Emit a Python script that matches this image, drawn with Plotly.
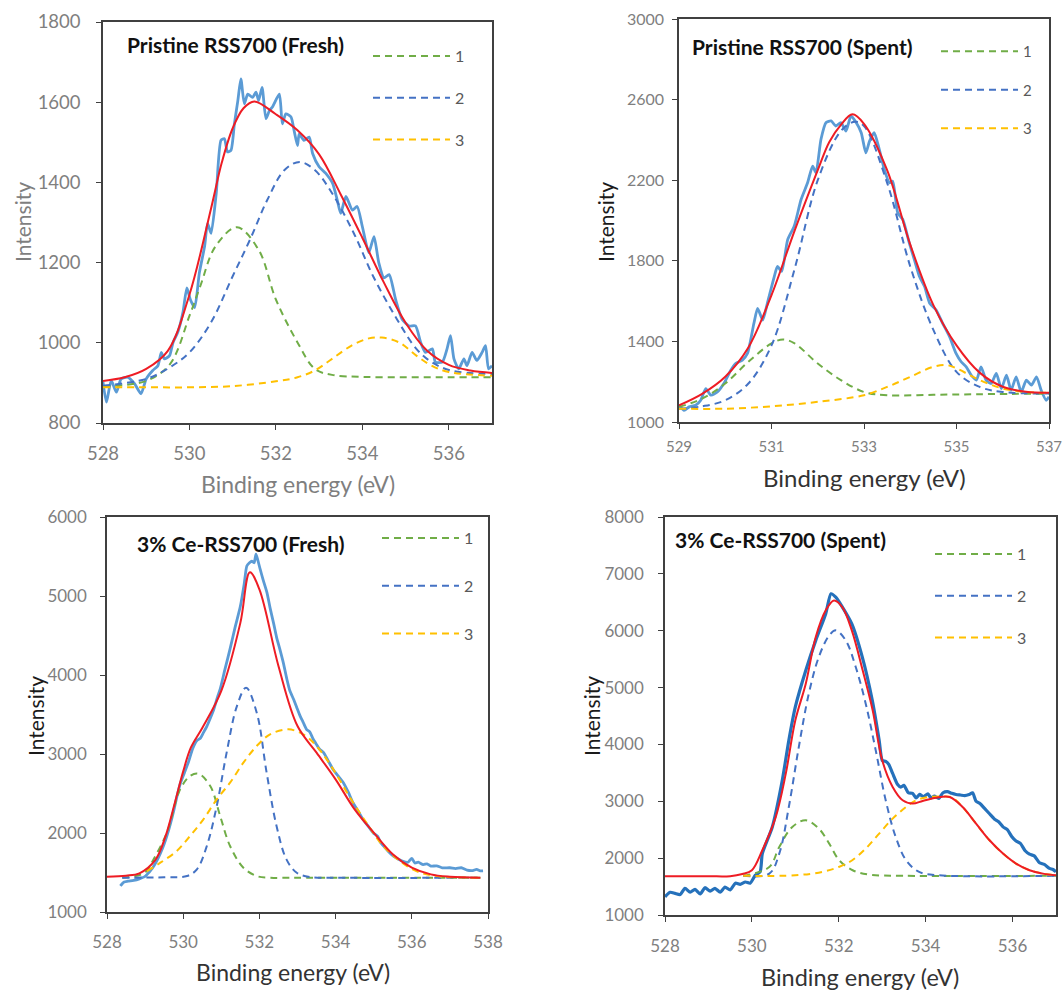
import plotly.graph_objects as go

W, H = 1064, 990
FONT = "Lato"

# ---------------- Panel 1: Pristine RSS700 (Fresh) ----------------
p1_title = "Pristine RSS700 (Fresh)"
p1_meas_x = [528.00, 528.08, 528.19, 528.31, 528.42, 528.58, 528.73, 528.88, 529.00, 529.15, 529.27, 529.35,
             529.42, 529.54, 529.62, 529.73, 529.85, 529.94, 530.02, 530.12, 530.23, 530.35, 530.42, 530.50,
             530.62, 530.73, 530.81, 530.88, 530.96, 531.04, 531.12, 531.19, 531.27, 531.35, 531.46, 531.54,
             531.60, 531.68, 531.77, 531.85, 531.92, 532.08, 532.15, 532.23, 532.35, 532.42, 532.50, 532.54,
             532.65, 532.77, 532.85, 533.00, 533.15, 533.31, 533.42, 533.50, 533.62, 533.77, 533.88, 534.00,
             534.15, 534.27, 534.38, 534.50, 534.62, 534.77, 534.92, 535.08, 535.23, 535.35, 535.46, 535.62,
             535.69, 535.85, 535.96, 536.04, 536.12, 536.23, 536.35, 536.42, 536.54, 536.65, 536.77, 536.85,
             536.92, 537.00]
p1_meas_y = [902, 852, 906, 877, 910, 914, 898, 873, 910, 931, 943, 976,
             960, 968, 1001, 1026, 1076, 1137, 1108, 1088, 1175, 1240, 1298, 1273,
             1373, 1505, 1509, 1476, 1480, 1546, 1604, 1658, 1596, 1620, 1612, 1625,
             1604, 1637, 1559, 1579, 1588, 1620, 1546, 1571, 1563, 1530, 1492, 1521,
             1505, 1513, 1472, 1439, 1423, 1398, 1356, 1323, 1365, 1331, 1340, 1290,
             1225, 1265, 1200, 1162, 1170, 1108, 1059, 1042, 1042, 1001, 976, 985,
             952, 952, 985, 1018, 960, 935, 960, 943, 976, 956, 976, 993,
             935, 943]
p1_fit_x = [528.0, 528.5, 529.0, 529.5, 530.0, 530.5, 530.75, 531.0, 531.25, 531.5, 532.0, 532.5, 533.0, 533.5,
            534.0, 534.5, 535.0, 535.5, 536.0, 536.5, 537.0]
p1_fit_y = [905, 914, 935, 980, 1120, 1335, 1450, 1535, 1585, 1602, 1570, 1530, 1470, 1370,
            1262, 1150, 1050, 980, 945, 931, 925]
p1_c1_x = [528.0, 529.0, 529.55, 530.0, 530.25, 530.6, 531.1, 531.6, 532.0, 532.5, 532.9, 533.3, 534.0, 535.0, 536.0, 537.0]
p1_c1_y = [892, 905, 947, 1067, 1141, 1240, 1288, 1232, 1108, 1001, 935, 920, 915, 914, 914, 914]
p1_c2_x = [528.0, 529.0, 529.55, 530.0, 530.5, 531.0, 531.4, 531.8, 532.2, 532.55, 532.9, 533.3, 533.8,
           534.25, 534.8, 535.25, 535.6, 536.05, 537.0]
p1_c2_y = [893, 910, 939, 976, 1051, 1166, 1257, 1356, 1431, 1451, 1431, 1373, 1274,
           1166, 1059, 985, 952, 931, 922]
p1_c3_x = [528.0, 529.0, 530.0, 531.0, 532.0, 532.5, 532.9, 533.3, 533.75, 534.15, 534.45, 534.85, 535.25,
           535.6, 536.0, 537.0]
p1_c3_y = [889, 889, 889, 892, 904, 914, 931, 960, 993, 1011, 1013, 1001, 968,
           943, 927, 918]

# ---------------- Panel 2: Pristine RSS700 (Spent) ----------------
p2_title = "Pristine RSS700 (Spent)"
p2_meas_x = [529.00, 529.11, 529.22, 529.36, 529.47, 529.58, 529.69, 529.83, 529.97, 530.12, 530.23, 530.37,
             530.48, 530.62, 530.70, 530.81, 530.91, 531.06, 531.13, 531.22, 531.35, 531.49, 531.64, 531.78,
             531.89, 531.96, 532.07, 532.18, 532.29, 532.39, 532.50, 532.61, 532.72, 532.83, 532.94, 533.04,
             533.12, 533.22, 533.33, 533.44, 533.55, 533.62, 533.73, 533.84, 533.98, 534.09, 534.20, 534.31,
             534.42, 534.56, 534.70, 534.85, 534.99, 535.10, 535.21, 535.32, 535.43, 535.53, 535.64, 535.75,
             535.86, 535.97, 536.08, 536.18, 536.29, 536.40, 536.51, 536.62, 536.73, 536.83, 536.94, 537.00]
p2_meas_y = [1083, 1058, 1075, 1083, 1108, 1166, 1133, 1149, 1191, 1257, 1291, 1307,
             1340, 1490, 1564, 1506, 1589, 1722, 1772, 1747, 1905, 1971, 2104, 2187,
             2270, 2237, 2403, 2486, 2494, 2469, 2486, 2444, 2519, 2486, 2436, 2336,
             2394, 2436, 2353, 2253, 2187, 2195, 2038, 2004, 1888, 1805, 1722, 1672,
             1589, 1556, 1490, 1423, 1340, 1299, 1274, 1232, 1208, 1274, 1208, 1191,
             1241, 1166, 1232, 1158, 1224, 1149, 1208, 1183, 1224, 1158, 1108, 1125]
p2_fit_x = [529.0, 529.5, 530.0, 530.5, 531.0, 531.5, 532.0, 532.25, 532.5, 532.75, 533.0, 533.5, 534.0, 534.5,
            535.0, 535.5, 536.0, 536.5, 537.0]
p2_fit_y = [1083, 1140, 1225, 1370, 1630, 1950, 2250, 2390, 2475, 2527, 2480, 2250, 1880, 1580,
            1380, 1245, 1175, 1150, 1145]
p2_c1_x = [529.0, 529.5, 530.0, 530.5, 531.0, 531.25, 531.5, 532.0, 532.5, 533.0, 533.5, 534.5, 535.5, 537.0]
p2_c1_y = [1075, 1116, 1191, 1299, 1390, 1410, 1390, 1290, 1208, 1149, 1133, 1135, 1138, 1141]
p2_c2_x = [529.0, 529.5, 530.0, 530.5, 531.0, 531.5, 532.0, 532.5, 532.8, 533.0, 533.5, 534.0, 534.5,
           535.0, 535.5, 536.0, 537.0]
p2_c2_y = [1066, 1078, 1108, 1191, 1380, 1760, 2200, 2444, 2490, 2469, 2187, 1772, 1457,
           1249, 1174, 1149, 1141]
p2_c3_x = [529.0, 530.0, 531.0, 532.0, 533.0, 533.5, 534.0, 534.5, 534.8, 535.0, 535.5, 536.0, 536.5, 537.0]
p2_c3_y = [1066, 1066, 1078, 1100, 1133, 1174, 1224, 1274, 1282, 1266, 1208, 1166, 1149, 1145]

# ---------------- Panel 3: 3% Ce-RSS700 (Fresh) ----------------
p3_title = "3% Ce-RSS700 (Fresh)"
p3_meas_x = [528.35, 528.45, 528.55, 528.70, 528.85, 529.00, 529.10, 529.20, 529.30, 529.40, 529.50, 529.57,
             529.66, 529.75, 529.83, 529.92, 530.03, 530.14, 530.25, 530.36, 530.45, 530.53, 530.62, 530.70,
             530.80, 530.90, 530.97, 531.10, 531.23, 531.36, 531.50, 531.60, 531.67, 531.74, 531.80, 531.86,
             531.91, 531.96, 532.02, 532.10, 532.20, 532.28, 532.37, 532.45, 532.54, 532.63, 532.72, 532.80,
             532.90, 532.98, 533.07, 533.15, 533.24, 533.32, 533.41, 533.50, 533.58, 533.68, 533.80, 533.94,
             534.07, 534.20, 534.33, 534.46, 534.59, 534.72, 534.85, 534.99, 535.10, 535.18, 535.25, 535.38,
             535.51, 535.64, 535.77, 535.90, 536.00, 536.08, 536.17, 536.30, 536.40, 536.50, 536.65, 536.80,
             537.00, 537.15, 537.30, 537.45, 537.60, 537.70, 537.80, 537.87]
p3_meas_y = [1330, 1380, 1390, 1400, 1420, 1450, 1500, 1560, 1640, 1740, 1860, 1960,
             2110, 2280, 2450, 2620, 2760, 2900, 3070, 3170, 3200, 3270, 3350, 3440,
             3560, 3720, 3820, 4080, 4330, 4600, 4870, 5150, 5380, 5420, 5440, 5420,
             5530, 5450, 5340, 5200, 5040, 4850, 4660, 4480, 4320, 4150, 3950, 3800,
             3690, 3590, 3480, 3400, 3310, 3280, 3190, 3120, 3060, 3020, 2920, 2800,
             2720, 2640, 2520, 2380, 2280, 2170, 2090, 2000, 1960, 1880, 1840, 1770,
             1710, 1670, 1640, 1630, 1680, 1620, 1630, 1600, 1610, 1580, 1585, 1560,
             1560, 1550, 1560, 1530, 1525, 1540, 1520, 1520]
p3_fit_x = [528.0, 528.5, 528.85, 529.27, 529.53, 529.79, 530.0, 530.2, 530.5, 531.0, 531.5, 531.75, 532.0,
            532.5, 533.0, 533.5, 534.0, 534.5, 535.0, 535.5, 536.0, 536.5, 537.0, 537.8]
p3_fit_y = [1447, 1460, 1490, 1660, 1950, 2400, 2780, 3080, 3330, 3800, 4660, 5300, 5084,
            4114, 3354, 3017, 2679, 2299, 2004, 1730, 1561, 1476, 1447, 1434]
p3_c1_x = [528.4, 529.0, 529.22, 529.57, 529.92, 530.18, 530.4, 530.71, 530.97, 531.23, 531.58, 531.93, 532.28, 533.0, 537.8]
p3_c1_y = [1434, 1500, 1666, 2004, 2552, 2721, 2750, 2595, 2215, 1835, 1561, 1455, 1434, 1434, 1434]
p3_c2_x = [528.4, 529.5, 530.1, 530.36, 530.62, 530.88, 531.14, 531.41, 531.65, 531.93, 532.19, 532.45,
           532.71, 532.98, 533.33, 534.0, 537.8]
p3_c2_y = [1434, 1440, 1455, 1540, 1835, 2341, 3017, 3607, 3840, 3523, 2763, 2088,
           1666, 1497, 1443, 1434, 1434]
p3_c3_x = [529.05, 529.4, 529.83, 530.18, 530.53, 530.88, 531.23, 531.58, 531.93, 532.28, 532.76, 533.15,
           533.5, 533.94, 534.38, 534.81, 535.25, 535.69, 536.12, 536.65, 537.8]
p3_c3_y = [1518, 1624, 1772, 1962, 2173, 2426, 2637, 2890, 3101, 3249, 3312, 3249,
           3101, 2805, 2447, 2130, 1835, 1645, 1518, 1455, 1434]

# ---------------- Panel 4: 3% Ce-RSS700 (Spent) ----------------
p4_title = "3% Ce-RSS700 (Spent)"
p4_meas_x = [528.00, 528.12, 528.23, 528.35, 528.46, 528.58, 528.69, 528.81, 528.92, 529.04, 529.15, 529.27,
             529.38, 529.50, 529.62, 529.73, 529.85, 529.96, 530.08, 530.19, 530.24, 530.47, 530.70, 530.85,
             531.00, 531.24, 531.47, 531.70, 531.82, 531.93, 532.08, 532.30, 532.54, 532.77, 532.93, 533.00,
             533.08, 533.15, 533.24, 533.35, 533.43, 533.50, 533.60, 533.70, 533.78, 533.86, 533.95, 534.05,
             534.12, 534.20, 534.30, 534.40, 534.50, 534.60, 534.70, 534.80, 534.90, 535.00, 535.08, 535.16,
             535.25, 535.35, 535.47, 535.58, 535.68, 535.78, 535.88, 535.98, 536.08, 536.18, 536.29, 536.39,
             536.50, 536.62, 536.73, 536.85, 536.93, 537.00]
p4_meas_y = [1320, 1400, 1380, 1360, 1470, 1400, 1450, 1370, 1480, 1420, 1470, 1400,
             1490, 1440, 1560, 1540, 1580, 1560, 1700, 1760, 2080, 2549, 3370, 4070,
             4660, 5300, 5830, 6300, 6650, 6590, 6420, 6120, 5540, 4780, 4070, 3720,
             3700, 3650, 3490, 3300, 3250, 3280, 3150, 3140, 3060, 3120, 3080, 3130,
             3060, 3090, 3050, 3150, 3170, 3140, 3120, 3110, 3100, 3120, 3150, 3000,
             2960, 2880, 2780, 2690, 2640, 2550, 2500, 2380, 2300, 2260, 2130, 2070,
             2040, 1920, 1890, 1820, 1800, 1760]
p4_fit_x = [528.0, 529.0, 529.5, 529.78, 530.0, 530.24, 530.55, 530.78, 531.0, 531.24, 531.47, 531.7,
            531.89, 532.08, 532.3, 532.55, 532.78, 533.0, 533.24, 533.47, 533.7, 533.93, 534.24, 534.55,
            534.85, 535.16, 535.47, 535.78, 536.08, 536.39, 536.7, 537.0]
p4_fit_y = [1681, 1681, 1683, 1720, 1787, 2139, 2725, 3486, 4424, 5068, 5889, 6358,
            6533, 6416, 6006, 5303, 4600, 3721, 3252, 3018, 2959, 3006, 3064, 3076,
            2900, 2607, 2314, 2080, 1904, 1787, 1728, 1699]
p4_c1_x = [529.8, 530.4, 530.63, 530.93, 531.24, 531.54, 531.78, 532.01, 532.32, 532.7, 533.5, 537.0]
p4_c1_y = [1690, 1845, 2197, 2549, 2666, 2520, 2256, 1963, 1787, 1711, 1690, 1690]
p4_c2_x = [529.8, 530.4, 530.63, 530.85, 531.08, 531.31, 531.54, 531.78, 531.93, 532.16, 532.39, 532.62,
           532.85, 533.08, 533.31, 533.55, 533.85, 534.3, 537.0]
p4_c2_y = [1690, 1728, 2080, 2900, 3955, 4893, 5537, 5918, 6006, 5830, 5362, 4717,
           3897, 3018, 2373, 1963, 1758, 1699, 1690]
p4_c3_x = [529.8, 531.0, 531.62, 532.0, 532.31, 532.62, 532.93, 533.24, 533.55, 533.78, 534.08, 534.4,
           534.6, 534.85, 535.16, 535.47, 535.78, 536.08, 536.39, 536.7, 537.0]
p4_c3_y = [1690, 1699, 1758, 1845, 1963, 2168, 2432, 2695, 2900, 3018, 3076, 3085,
           3070, 2900, 2607, 2314, 2080, 1904, 1787, 1728, 1699]

legend_labels = ["1", "2", "3"]

# ---------------- styling ----------------
C_GREEN = "#70AD47"
C_BLUE = "#4472C4"
C_YELLOW = "#FFC000"
C_FIT = "#EE1C24"
C_MEAS = "#5B9BD5"
C_MEAS_DARK = "#2571BB"
DASH = "7px,5px"

fig = go.Figure()

panels = [
    dict(x=p1_meas_x, y=p1_meas_y, fx=p1_fit_x, fy=p1_fit_y,
         comps=[(p1_c1_x, p1_c1_y), (p1_c2_x, p1_c2_y), (p1_c3_x, p1_c3_y)],
         meas_color=C_MEAS, meas_w=2.8),
    dict(x=p2_meas_x, y=p2_meas_y, fx=p2_fit_x, fy=p2_fit_y,
         comps=[(p2_c1_x, p2_c1_y), (p2_c2_x, p2_c2_y), (p2_c3_x, p2_c3_y)],
         meas_color=C_MEAS, meas_w=2.8),
    dict(x=p3_meas_x, y=p3_meas_y, fx=p3_fit_x, fy=p3_fit_y,
         comps=[(p3_c1_x, p3_c1_y), (p3_c2_x, p3_c2_y), (p3_c3_x, p3_c3_y)],
         meas_color=C_MEAS, meas_w=2.8),
    dict(x=p4_meas_x, y=p4_meas_y, fx=p4_fit_x, fy=p4_fit_y,
         comps=[(p4_c1_x, p4_c1_y), (p4_c2_x, p4_c2_y), (p4_c3_x, p4_c3_y)],
         meas_color=C_MEAS_DARK, meas_w=3.2),
]
comp_colors = [C_GREEN, C_BLUE, C_YELLOW]

for i, p in enumerate(panels):
    n = "" if i == 0 else str(i + 1)
    xa, ya = "x" + n, "y" + n
    lg = "legend" + n
    fig.add_trace(go.Scatter(x=p["x"], y=p["y"], mode="lines", xaxis=xa, yaxis=ya,
                             line=dict(color=p["meas_color"], width=p["meas_w"], shape="spline", smoothing=0.6),
                             showlegend=False, hoverinfo="skip"))
    for k, (cx, cy) in enumerate(p["comps"]):
        fig.add_trace(go.Scatter(x=cx, y=cy, mode="lines", xaxis=xa, yaxis=ya, name=legend_labels[k],
                                 legend=lg, legendgroup=f"g{i}{k}",
                                 line=dict(color=comp_colors[k], width=2, dash=DASH, shape="spline", smoothing=1.0),
                                 showlegend=True, hoverinfo="skip"))
    fig.add_trace(go.Scatter(x=p["fx"], y=p["fy"], mode="lines", xaxis=xa, yaxis=ya,
                             line=dict(color=C_FIT, width=2, shape="spline", smoothing=1.0),
                             showlegend=False, hoverinfo="skip"))

def px_x(v):
    return v / W

def px_y(v):
    return 1 - v / H

# plot area pixel boxes: (left, right, top, bottom)
boxes = [(103, 492, 22, 423), (679, 1049, 19, 422), (107, 488, 517, 912), (665, 1056, 517, 915)]
xranges = [[528, 537], [529, 537], [528, 538], [528, 537]]
yranges = [[800, 1800], [1000, 3000], [1000, 6000], [1000, 8000]]
xtick0 = [528, 529, 528, 528]
ytick0 = [800, 1000, 1000, 1000]
ydticks = [200, 400, 1000, 1000]
ytick_sizes = [18.5, 16, 17, 17]
xtick_sizes = [18.5, 15, 17, 17]
ystandoff = [12, 5, 10, 11]
xstandoff = [8, 5, 9, 10]
tick_color = "#7F7F7F"
axis_line = "#404040"

layout = dict(width=W, height=H, margin=dict(l=0, r=0, t=0, b=0, autoexpand=False),
              paper_bgcolor="white", plot_bgcolor="white",
              font=dict(family=FONT, color="#404040"), showlegend=True)

for i in range(4):
    n = "" if i == 0 else str(i + 1)
    l, r, t, b = boxes[i]
    layout["xaxis" + n] = dict(domain=[px_x(l), px_x(r)], range=xranges[i], anchor="y" + n,
                               tick0=xtick0[i], dtick=2, ticks="outside", ticklen=5, tickcolor=axis_line,
                               showline=True, linecolor=axis_line, linewidth=1.5, mirror=True,
                               showgrid=False, zeroline=False, ticklabelstandoff=xstandoff[i],
                               automargin=False,
                               tickfont=dict(family=FONT, size=xtick_sizes[i], color=tick_color))
    layout["yaxis" + n] = dict(domain=[px_y(b), px_y(t)], range=yranges[i], anchor="x" + n,
                               tick0=ytick0[i], dtick=ydticks[i], ticks="outside", ticklen=5, tickcolor=axis_line,
                               showline=True, linecolor=axis_line, linewidth=1.5, mirror=True,
                               showgrid=False, zeroline=False, ticklabelstandoff=ystandoff[i],
                               automargin=False,
                               tickfont=dict(family=FONT, size=ytick_sizes[i], color=tick_color))

# legends (one per panel): left pixel, top pixel, font size, group gap
leg_pos = [(368, 39, 16, 18), (936, 35, 15, 16), (377, 521, 16, 24), (930, 537, 16, 18)]
for i in range(4):
    n = "" if i == 0 else str(i + 1)
    lx, ly, fs, gap = leg_pos[i]
    layout["legend" + n] = dict(x=px_x(lx), y=px_y(ly), xanchor="left", yanchor="top",
                                bgcolor="rgba(0,0,0,0)", borderwidth=0,
                                font=dict(family=FONT, size=fs, color="#595959"),
                                tracegroupgap=gap, itemwidth=77, itemclick=False)

fig.update_layout(**layout)

# panel titles
titles = [(p1_title, 125, 45, 21), (p2_title, 690, 47, 21), (p3_title, 135, 543, 21), (p4_title, 673, 539, 21)]
for text, x, y, s in titles:
    fig.add_annotation(text=f"<b>{text}</b>", x=px_x(x), y=px_y(y), xref="paper", yref="paper",
                       xanchor="left", yanchor="middle", showarrow=False,
                       font=dict(family=FONT, size=s, color="#111111"))

# axis titles
xt = [(298, 484, "#7F7F7F", 23), (864, 477, "#333333", 24), (293, 972, "#333333", 23), (860, 977, "#333333", 23.5)]
for x, y, c, s in xt:
    fig.add_annotation(text="Binding energy (eV)", x=px_x(x), y=px_y(y), xref="paper", yref="paper",
                       xanchor="center", yanchor="middle", showarrow=False,
                       font=dict(family=FONT, size=s, color=c))
yt = [(22, 222, "#7F7F7F", 21), (605, 222, "#1A1A1A", 21), (35, 716, "#1A1A1A", 21), (591, 716, "#1A1A1A", 21)]
for x, y, c, s in yt:
    fig.add_annotation(text="Intensity", x=px_x(x), y=px_y(y), xref="paper", yref="paper",
                       xanchor="center", yanchor="middle", showarrow=False, textangle=-90,
                       font=dict(family=FONT, size=s, color=c))

fig.write_html("out.html")
